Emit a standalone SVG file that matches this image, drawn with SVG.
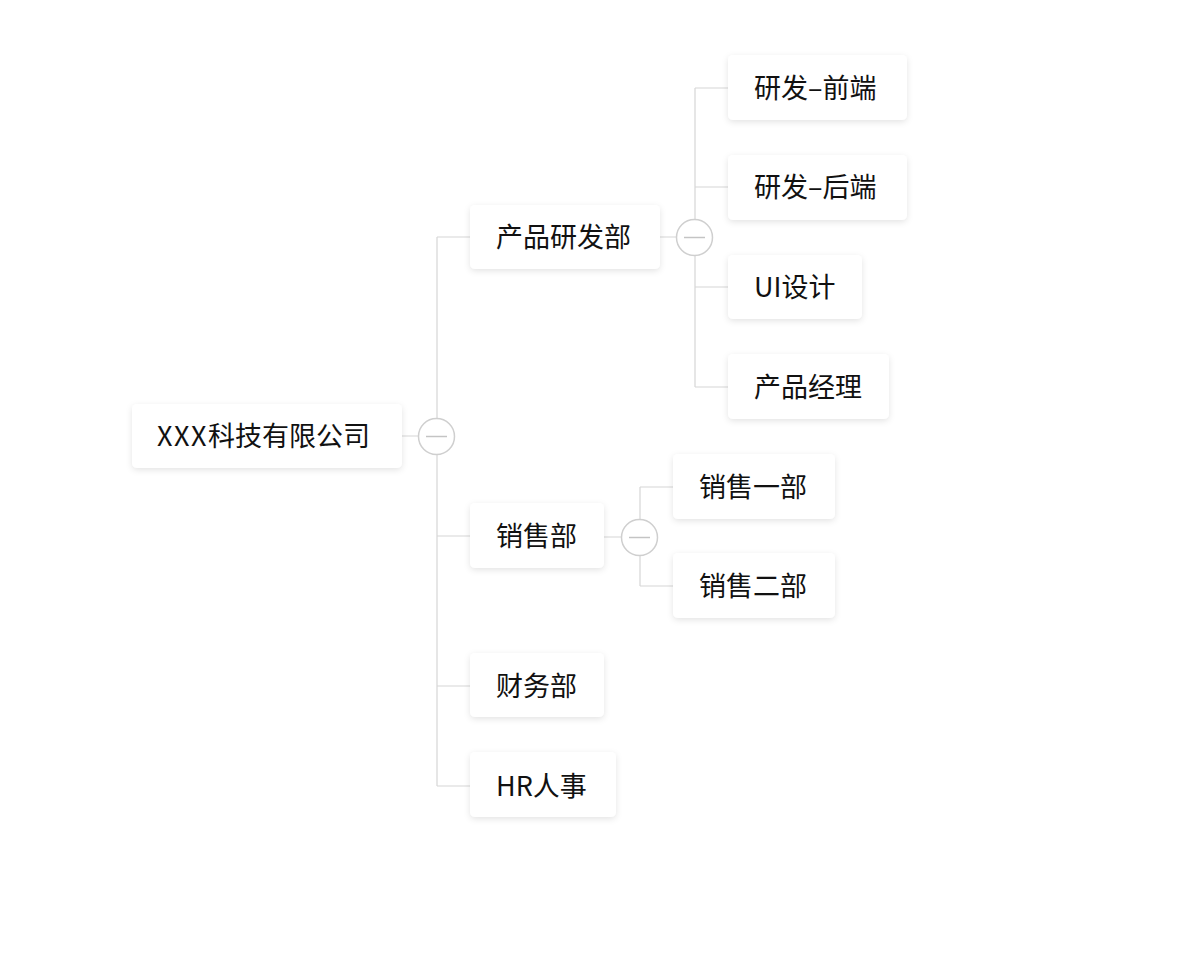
<svg xmlns="http://www.w3.org/2000/svg" width="1199" height="960" viewBox="0 0 1199 960">
<defs>
<filter id="sh" x="-20%" y="-30%" width="140%" height="170%">
<feDropShadow dx="0" dy="2" stdDeviation="3" flood-color="#000" flood-opacity="0.11"/>
</filter>
<style>
.box{fill:#fff;filter:url(#sh);}
.t{font-family:"PingFang SC","Noto Sans CJK SC",sans-serif;font-size:27px;fill:#111;dominant-baseline:central;}
.ln{stroke:#d6d6d6;stroke-width:1.2;fill:none;}
.tog circle{fill:#fff;stroke:#cfcfcf;stroke-width:1.5;}
.tog line{stroke:#c4c4c4;stroke-width:1.5;}
</style>
</defs>
<rect width="1199" height="960" fill="#fff"/>
<g id="connectors">
<path class="ln" d="M402 436H418M437 237V786M437 237H470M437 536H470M437 686H470M437 786H470"/>
<path class="ln" d="M660 237H676M695 88V387M695 88H728M695 187H728M695 287H728M695 387H728"/>
<path class="ln" d="M604 537H621M640 487V586M640 487H673M640 586H673"/>
</g>
<g id="toggle-root" class="tog"><circle cx="436.5" cy="436.5" r="18"/><line x1="426" y1="436.5" x2="447" y2="436.5"/></g>
<g id="toggle-rd" class="tog"><circle cx="694.5" cy="237.5" r="18"/><line x1="684" y1="237.5" x2="705" y2="237.5"/></g>
<g id="toggle-sales" class="tog"><circle cx="639.5" cy="537.5" r="18"/><line x1="629" y1="537.5" x2="650" y2="537.5"/></g>
<g id="root"><rect class="box" x="132" y="404" width="270" height="64" rx="5"/><text class="t" x="157" y="434"><tspan letter-spacing="1.5">XXX</tspan>科技有限公司</text></g>
<g id="rd"><rect class="box" x="470" y="205" width="190" height="64" rx="5"/><text class="t" x="496" y="235">产品研发部</text></g>
<g id="fe"><rect class="box" x="728" y="55" width="179" height="65" rx="5"/><text class="t" x="754" y="86">研发–前端</text></g>
<g id="be"><rect class="box" x="728" y="155" width="179" height="65" rx="5"/><text class="t" x="754" y="185">研发–后端</text></g>
<g id="ui"><rect class="box" x="728" y="255" width="134" height="64" rx="5"/><text class="t" x="754" y="285">UI设计</text></g>
<g id="pm"><rect class="box" x="728" y="354" width="161" height="65" rx="5"/><text class="t" x="754" y="385">产品经理</text></g>
<g id="sales"><rect class="box" x="470" y="503" width="134" height="65" rx="5"/><text class="t" x="496" y="534">销售部</text></g>
<g id="sales1"><rect class="box" x="673" y="454" width="162" height="65" rx="5"/><text class="t" x="699" y="485">销售一部</text></g>
<g id="sales2"><rect class="box" x="673" y="553" width="162" height="65" rx="5"/><text class="t" x="699" y="584">销售二部</text></g>
<g id="finance"><rect class="box" x="470" y="653" width="134" height="64" rx="5"/><text class="t" x="496" y="684">财务部</text></g>
<g id="hr"><rect class="box" x="470" y="752" width="146" height="65" rx="5"/><text class="t" x="496" y="784">HR人事</text></g>
</svg>
